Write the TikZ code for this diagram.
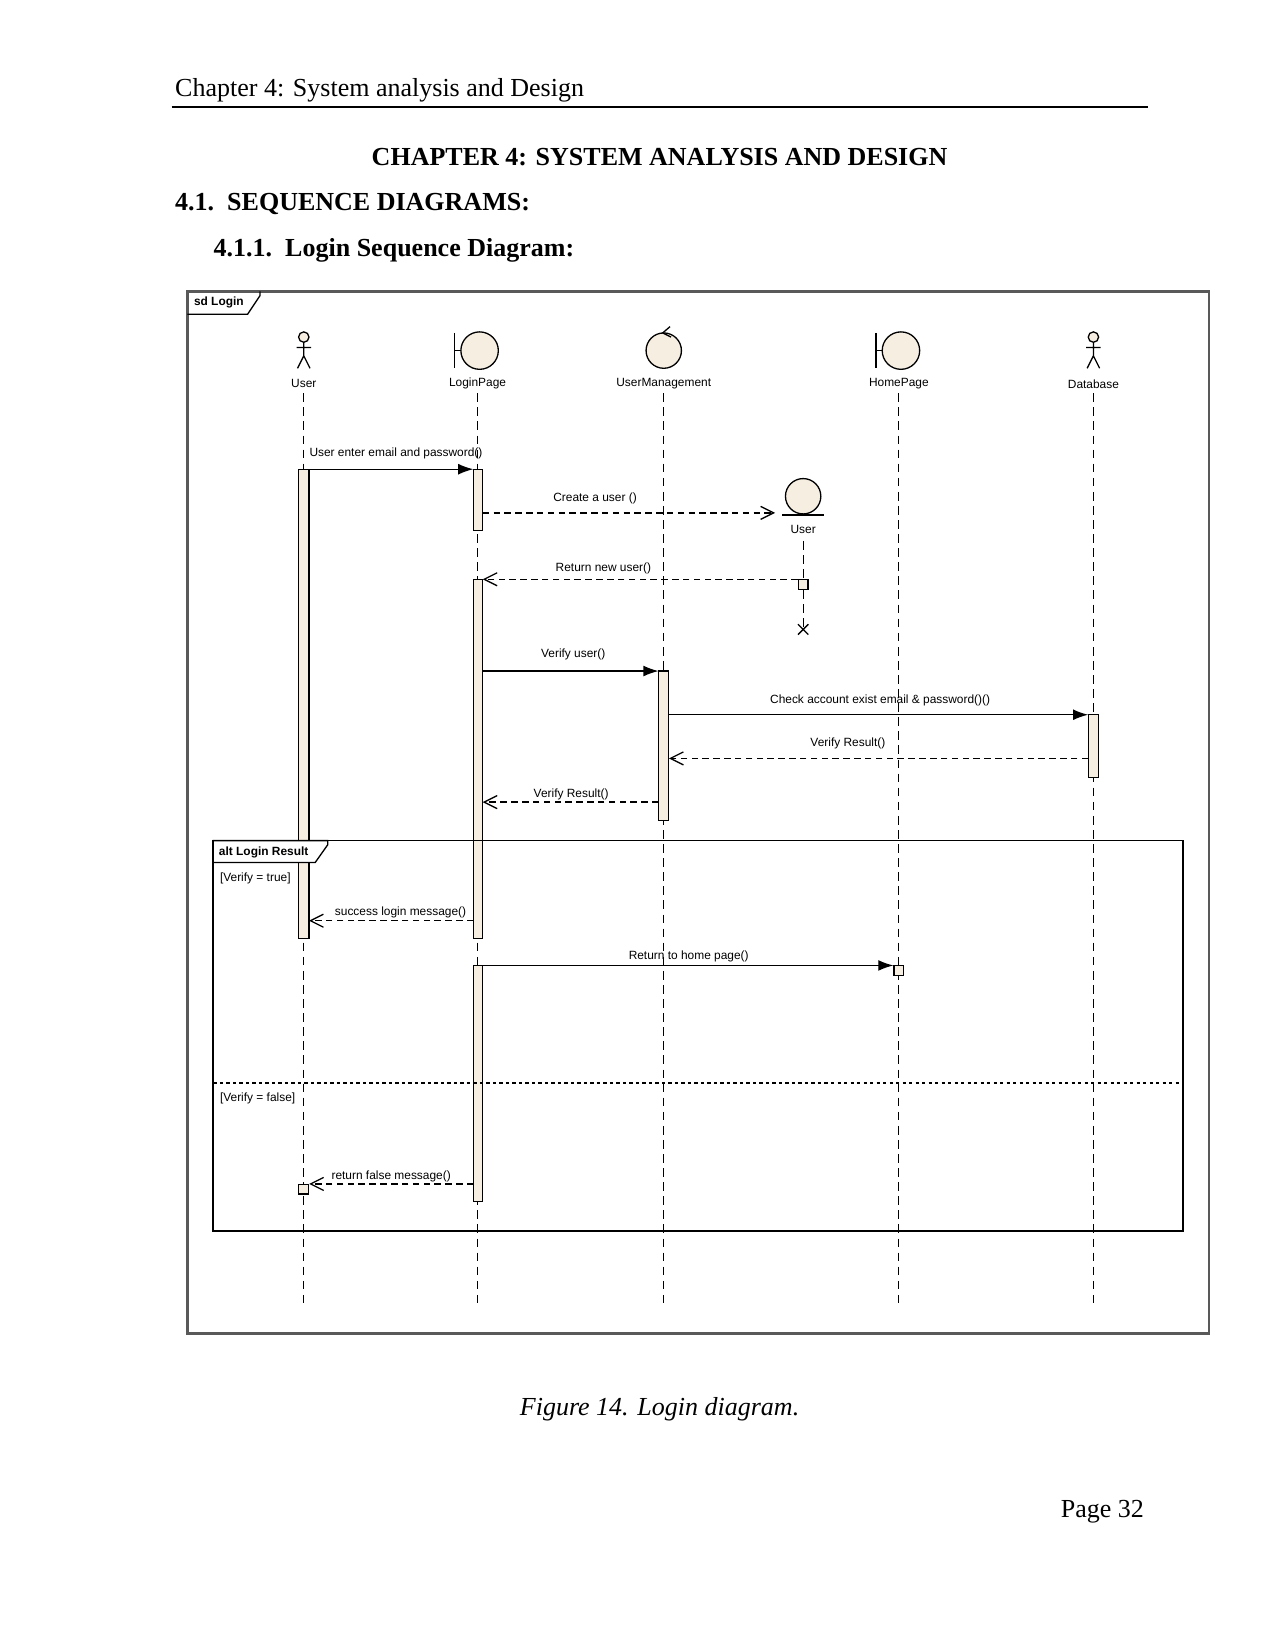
\documentclass[tikz,border=0pt]{standalone}
\usepackage{fontspec}
\setmainfont{Liberation Serif}
\newfontfamily\dg{Liberation Sans}
\usetikzlibrary{arrows.meta}
\definecolor{beige}{HTML}{F7EEE2}
\begin{document}
\begin{tikzpicture}[x=0.48pt,y=-0.48pt,
  lbl/.style={font=\dg\fontsize{5.5}{6}\selectfont,inner sep=1pt},
  life/.style={dash pattern=on 4pt off 2.5pt,line width=0.5pt},
  act/.style={draw,fill=beige,line width=0.5pt},
  call/.style={line width=0.6pt,-{Latex[length=7pt,width=5pt]}},
  ret/.style={line width=0.6pt,dash pattern=on 3pt off 2pt,-{Straight Barb[length=6pt,width=6pt]}},
  obj/.style={draw,fill=beige,line width=0.6pt}]
\useasboundingbox (0,0) rectangle (1226,1586);
% page text
\node[anchor=west,font=\fontsize{12}{14}\selectfont,inner sep=0] (hdr) at (168,87) {Chapter 4: System analysis and Design};
\draw[line width=0.8pt] (165,103) -- (1103,103);
\node[font=\bfseries\fontsize{12}{14}\selectfont] (t1) at (634,151) {CHAPTER 4: SYSTEM ANALYSIS AND DESIGN};
\node[anchor=west,font=\bfseries\fontsize{12}{14}\selectfont,inner sep=0] (t2) at (168,196) {4.1.\ \ SEQUENCE DIAGRAMS:};
\node[anchor=west,font=\bfseries\fontsize{12}{14}\selectfont,inner sep=0] (t3) at (205,241) {4.1.1.\ \ Login Sequence Diagram:};
\node[font=\itshape\fontsize{12}{14}\selectfont] (cap) at (634,1355) {Figure 14. Login diagram.};
\node[anchor=east,font=\fontsize{12}{14}\selectfont,inner sep=0] (pg) at (1100,1453) {Page 32};
% frame
\draw[line width=1.2pt,draw=black!65] (180,280) rectangle (1162,1282);
\draw[line width=0.6pt] (180,302) -- (238,302) -- (250,284) -- (250,280);
\node[lbl,anchor=west,font=\dg\bfseries\fontsize{5.5}{6}\selectfont] (sd) at (184,291) {sd Login};
% lifelines
\foreach \n/\x in {u/292,lp/459,um/638,hp/864,db/1051}{\coordinate (\n top) at (\x,378); \coordinate (\n bot) at (\x,1252); \draw[life] (\n top) -- (\n bot);}
% actors
\foreach \x in {292,1051}{
 \draw[line width=0.6pt,fill=beige] (\x,324) circle (5);
 \draw[line width=0.6pt] (\x,329) -- (\x,342) (\x-7,334) -- (\x+7,334) (\x-6,354) -- (\x,342) -- (\x+6,354);}
% boundaries
\foreach \x in {459,864}{
 \draw[obj] (\x+2,337) circle (18);
 \draw[line width=0.6pt] (\x-22,320) -- (\x-22,354) (\x-22,337) -- (\x-16,337);}
% control
\draw[obj] (638,337) circle (17);
\draw[line width=0.6pt] (644,314) -- (637,320) -- (645,324);
\node[lbl] (nu) at (292,369) {User};
\node[lbl] (nlp) at (459,369) {LoginPage};
\node[lbl] (num) at (638,369) {UserManagement};
\node[lbl] (nhp) at (864,369) {HomePage};
\node[lbl] (ndb) at (1051,369) {Database};
% created entity
\draw[obj] (772,477) circle (17);
\draw[line width=0.6pt] (752,495) -- (792,495);
\node[lbl] (nuser) at (772,509) {User};
\coordinate (cu top) at (772,520);
\node[draw,fill=beige,line width=0.5pt,minimum size=4.5pt,inner sep=0] (sq1) at (772,562) {};
\coordinate (cux) at (772,605);
\draw[life] (cu top) -- (sq1.north) (sq1.south) -- (cux);
\draw[line width=0.6pt] (767,600) -- (777,610) (777,600) -- (767,610);
% activations
\draw[act] (287,451) rectangle (297,902);
\draw[act] (455,451) rectangle (464,510);
\draw[act] (455,557) rectangle (464,902);
\draw[act] (455,928) rectangle (464,1155);
\draw[act] (633,645) rectangle (643,789);
\draw[act] (1046,687) rectangle (1056,747);
% alt fragment
\draw[line width=0.8pt] (205,808) rectangle (1137,1183);
\draw[line width=0.6pt,fill=white] (205,808) -- (205,829) -- (303,829) -- (315,812) -- (315,808) -- cycle;
\node[lbl,anchor=west,font=\dg\bfseries\fontsize{5.5}{6}\selectfont] (alt) at (208,819) {alt Login Result};
\node[lbl,anchor=west] (g1) at (209,844) {[Verify = true]};
\draw[line width=0.5pt,dash pattern=on 1.5pt off 1.5pt] (205,1041) -- (1137,1041);
\node[lbl,anchor=west] (g2) at (209,1056) {[Verify = false]};
% messages
\coordinate (m1a) at (297,451); \coordinate (m1b) at (455,451);
\draw[call] (m1a) -- (m1b);
\node[lbl,anchor=west] at (295,436) {User enter email and password()};
\coordinate (m2a) at (464,493); \coordinate (m2b) at (745,493);
\draw[ret] (m2a) -- (m2b);
\node[lbl] at (572,479) {Create a user ()};
\coordinate (m3b) at (464,557);
\draw[ret] (sq1.north west) -- (m3b |- sq1.north west);
\node[lbl] at (580,546) {Return new user()};
\coordinate (m4a) at (464,645); \coordinate (m4b) at (633,645);
\draw[call] (m4a) -- (m4b);
\node[lbl] at (551,629) {Verify user()};
\coordinate (m5a) at (643,687); \coordinate (m5b) at (1046,687);
\draw[call] (m5a) -- (m5b);
\node[lbl] at (846,673) {Check account exist email \& password()()};
\coordinate (m6a) at (1046,729); \coordinate (m6b) at (643,729);
\draw[ret] (m6a) -- (m6b);
\node[lbl] at (815,715) {Verify Result()};
\coordinate (m7a) at (633,771); \coordinate (m7b) at (464,771);
\draw[ret] (m7a) -- (m7b);
\node[lbl] at (549,764) {Verify Result()};
\coordinate (m8a) at (455,885); \coordinate (m8b) at (297,885);
\draw[ret] (m8a) -- (m8b);
\node[lbl] at (385,877) {success login message()};
\node[draw,fill=beige,line width=0.5pt,minimum size=4.5pt,inner sep=0] (sq2) at (864,933) {};
\coordinate (m9a) at (464,928);
\draw[call] (m9a) -- (sq2.north west |- m9a) ;
\node[lbl] at (662,919) {Return to home page()};
\node[draw,fill=beige,line width=0.5pt,minimum size=4.5pt,inner sep=0] (sq3) at (292,1143) {};
\coordinate (m10a) at (455,1138);
\draw[ret] (m10a) -- (sq3.north east |- m10a);
\node[lbl] at (376,1131) {return false message()};
\end{tikzpicture}
\end{document}
